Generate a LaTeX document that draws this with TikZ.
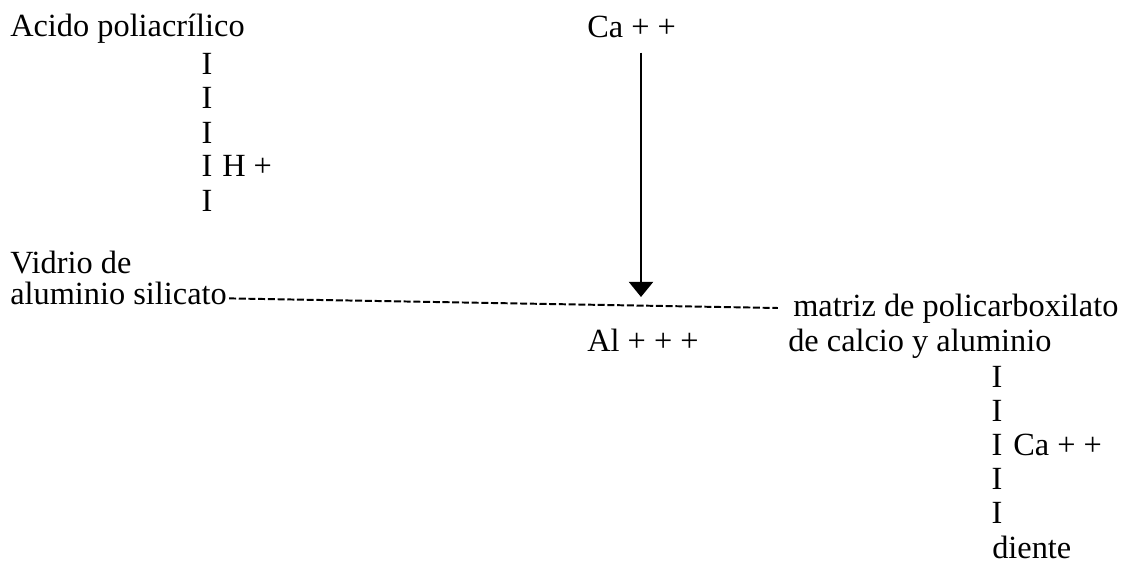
\documentclass[tikz,border=0pt]{standalone}
\usepackage{fontspec}
\setmainfont{Liberation Serif}
\usetikzlibrary{arrows.meta}

\tikzset{
  txt/.style={anchor=base west, inner sep=0pt, font=\fontsize{23}{28}\selectfont},
  bar/.style={txt, anchor=base},
  dashline/.style={line width=1.4pt, dash pattern=on 5pt off 1.9pt},
}

\begin{document}
\begin{tikzpicture}[x=0.025cm, y=-0.025cm, >={Triangle[width=0.6cm,length=0.38cm]}]
        \useasboundingbox (0,0) rectangle (1128,571);
        % ==== ACIDO POLIACRILICO ====
        \node[txt] (acido) at (10,37) {Acido poliacrílico};
        \foreach \y [count=\i] in {75,109,143,177,211}
            \node[bar] (ia\i) at (207,\y) {I};
        \node[txt] (hplus) at (222,177) {H +};
        % ==== CALCIO ====
        \node[txt] (ca) at (587,38) {Ca + +};
        \coordinate (tip) at (641,297);
        \draw[->, line width=2pt] (ca.south -| tip) ++(0,14) -- (tip);
        % ==== VIDRIO ====
        \node[txt] (vidrio) at (10,273) {Vidrio de};
        \node[txt] (silicato) at (10,304) {aluminio silicato};
        \node[txt] (al) at (587,351) {Al + + +};
        % ==== MATRIZ ====
        \node[txt] (matriz) at (793,316) {matriz de policarboxilato};
        \node[txt] (calcio) at (788,351) {de calcio y aluminio};
        \draw[dashline] ([xshift=0.05cm,yshift=0.14cm]silicato.base east) -- ([xshift=-0.38cm,yshift=0.2cm]matriz.base west);
        % ==== Diente ====
        \foreach \y [count=\i] in {387,421,455,489,523}
            \node[bar] (ib\i) at (997,\y) {I};
        \node[txt] (caplus) at (1013,455) {Ca + +};
        \node[txt] (diente) at (992,558) {diente};
\end{tikzpicture}
\end{document}
